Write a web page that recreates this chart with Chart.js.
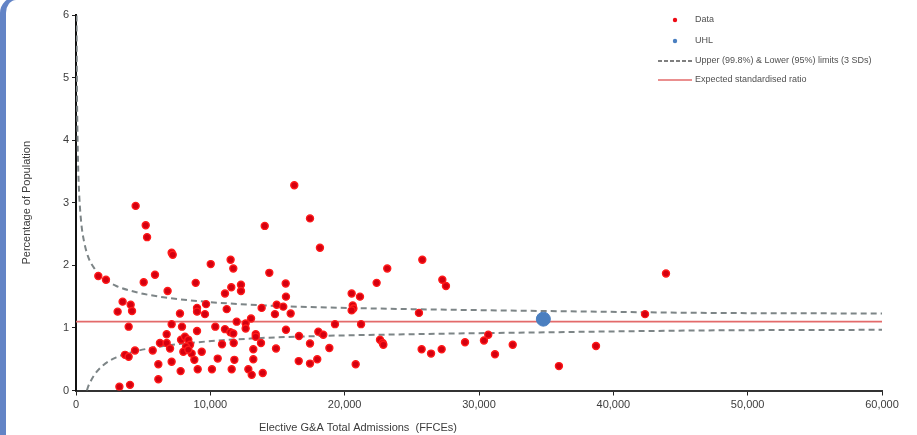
<!DOCTYPE html>
<html>
<head>
<meta charset="utf-8">
<script src="https://cdn.jsdelivr.net/npm/chart.js@4/dist/chart.umd.min.js"></script>
<style>
  html, body { margin: 0; padding: 0; background: #fff; }
  #wrap { position: relative; width: 917px; height: 435px; overflow: hidden; background: #fff; }
  #c { position: absolute; left: 0; top: 0; }
  #frame {
    position: absolute; left: 0; top: -3px; width: 16px; height: 470px;
    border-left: 6px solid #6384c6; border-top: 3px solid #6384c6;
    border-top-left-radius: 16px; box-sizing: border-box;
  }
</style>
</head>
<body>
<div id="wrap">
  <canvas id="c" width="917" height="435"></canvas>
  <div id="frame"></div>
</div>
<script>
// Elective G&A total admissions (FFCEs) per organisation
const admissions = [
  1660, 2230, 3100, 3470, 4070, 4170, 3920, 3650, 3920, 4390,
  3230, 4020, 4440, 5190, 5290, 7120, 7200, 5880, 5040, 6820,
  5710, 6130, 6130, 7120, 7790, 6750, 6250, 6750, 7000, 7740,
  7120, 7890, 7820, 8110, 8360, 8490, 8190, 7990, 8610, 8360,
  8810, 9360, 9060, 9010, 9010, 9680, 9600, 9010, 8910, 10030,
  11510, 11710, 11560, 12280, 12280, 11090, 11220, 10370, 11090, 11490,
  11710, 11960, 12630, 12630, 13030, 13380, 13380, 13820, 10870, 11740,
  13200, 13770, 10120, 10550, 11590, 11790, 12830, 13080, 13200, 13900,
  14050, 14390, 15610, 15630, 14940, 15430, 14810, 15980, 15630, 16600,
  18040, 18410, 19280, 17420, 18860, 14890, 16580, 17420, 17960, 16250,
  17420, 18160, 20520, 21140, 20600, 20650, 20520, 21220, 22380, 23170,
  25780, 27270, 27540, 25530, 22630, 22830, 22880, 20820, 25730, 26430,
  27220, 28960, 30370, 30690, 31190, 32510, 35950, 38710, 42360, 43920
];
// Percentage of population for the same organisations
const percentages = [
  1.83, 1.77, 1.26, 1.42, 1.37, 1.27, 1.02, 0.57, 0.54, 0.64,
  0.06, 0.09, 2.95, 2.64, 2.45, 2.20, 2.17, 1.85, 1.73, 1.59,
  0.64, 0.42, 0.18, 0.46, 0.31, 0.90, 0.76, 0.76, 0.67, 1.23,
  1.06, 1.02, 0.81, 0.86, 0.81, 0.73, 0.70, 0.62, 0.59, 0.65,
  0.49, 0.62, 0.34, 1.32, 1.26, 1.38, 1.22, 0.95, 1.72, 2.02,
  2.09, 1.95, 1.65, 1.69, 1.59, 1.55, 1.30, 1.02, 0.98, 0.93,
  0.91, 1.10, 1.07, 0.99, 1.15, 0.90, 0.86, 1.32, 0.74, 0.76,
  0.66, 0.76, 0.34, 0.51, 0.34, 0.49, 0.34, 0.25, 0.50, 0.28,
  2.63, 1.88, 1.71, 1.50, 1.37, 1.34, 1.22, 1.23, 0.97, 0.87,
  0.94, 0.89, 1.06, 0.75, 0.68, 0.67, 0.47, 0.43, 0.50, 3.28,
  2.75, 2.28, 1.55, 1.50, 1.36, 1.31, 1.28, 1.06, 1.72, 1.95,
  2.09, 1.77, 1.67, 1.24, 0.81, 0.76, 0.73, 0.42, 0.66, 0.59,
  0.66, 0.77, 0.80, 0.89, 0.58, 0.73, 0.39, 0.71, 1.22, 1.87
];

const uhlAdmissions = [34790];
const uhlPercentage = [1.14];

const expectedRatio = 1.10;
const expectedRange = [0, 60000];

// Control limit curves
const upperLimitN = [41, 60, 80, 120, 170, 250, 400, 600, 900, 1400, 2000, 3000, 4500, 6500, 9000, 13000, 18000, 25000, 35000, 47000, 60000];
const upperLimit  = [5.99, 5.14, 4.60, 3.96, 3.50, 3.08, 2.66, 2.38, 2.14, 1.94, 1.80, 1.67, 1.57, 1.49, 1.43, 1.37, 1.33, 1.30, 1.27, 1.24, 1.23];
const lowerLimitN = [810, 900, 1000, 1400, 2000, 3000, 4500, 6500, 9000, 13000, 18000, 25000, 35000, 47000, 60000];
const lowerLimit  = [0.00, 0.06, 0.11, 0.26, 0.40, 0.53, 0.63, 0.71, 0.77, 0.83, 0.87, 0.90, 0.93, 0.96, 0.97];

const xTicks = [0, 10000, 20000, 30000, 40000, 50000, 60000];
const yTicks = [0, 1, 2, 3, 4, 5, 6];

const xTitle = 'Elective G&A Total Admissions  (FFCEs)';
const yTitle = 'Percentage of Population';

const FONT = '"Liberation Sans", Arial, sans-serif';
const TEXT = '#3c3c3c';
const RED = '#ee0a14';
const BLUE = '#4a7fc0';
const LIMIT_GREY = '#7d8587';
const EXPECTED_RED = '#e36a6a';

const pts = (xs, ys) => xs.map((x, i) => ({ x, y: ys[i] }));

// Legend in the top-right corner of the plot
const cornerLegend = {
  id: 'cornerLegend',
  afterDraw(chart) {
    const ctx = chart.ctx;
    const ds = chart.data.datasets;
    const x0 = 658, x1 = 692, tx = 695;
    ctx.save();
    ctx.font = '9px ' + FONT;
    ctx.textBaseline = 'middle';

    // Data
    ctx.beginPath(); ctx.arc(675, 20, 2.2, 0, Math.PI * 2); ctx.fillStyle = RED; ctx.fill();
    ctx.fillStyle = '#505050'; ctx.fillText(ds[0].label, tx, 20);
    // UHL
    ctx.beginPath(); ctx.arc(675, 41, 2.2, 0, Math.PI * 2); ctx.fillStyle = BLUE; ctx.fill();
    ctx.fillStyle = '#505050'; ctx.fillText(ds[1].label, tx, 41);
    // Limits
    ctx.strokeStyle = '#555'; ctx.lineWidth = 1.5; ctx.setLineDash([4, 2]);
    ctx.beginPath(); ctx.moveTo(x0, 61); ctx.lineTo(x1, 61); ctx.stroke();
    ctx.setLineDash([]);
    ctx.fillText(ds[2].label, tx, 61);
    // Expected
    ctx.strokeStyle = EXPECTED_RED; ctx.lineWidth = 1.5;
    ctx.beginPath(); ctx.moveTo(x0, 80); ctx.lineTo(x1, 80); ctx.stroke();
    ctx.fillText(ds[4].label, tx, 80);

    // x-axis title
    ctx.font = '11px ' + FONT;
    ctx.fillStyle = TEXT;
    ctx.textAlign = 'center';
    ctx.fillText(xTitle, 358, 428);
    ctx.restore();
  }
};

new Chart(document.getElementById('c'), {
  type: 'scatter',
  data: {
    datasets: [
      {
        label: 'Data',
        data: pts(admissions, percentages),
        backgroundColor: '#d4000f',
        borderColor: '#ff1a1a',
        borderWidth: 1.4,
        pointRadius: 3.5,
        order: 1
      },
      {
        label: 'UHL',
        data: pts(uhlAdmissions, uhlPercentage),
        backgroundColor: BLUE,
        borderColor: BLUE,
        pointRadius: 7,
        order: 0
      },
      {
        label: 'Upper (99.8%) & Lower (95%) limits (3 SDs)',
        data: pts(upperLimitN, upperLimit),
        showLine: true,
        borderColor: LIMIT_GREY,
        borderWidth: 2,
        borderDash: [6, 4],
        pointRadius: 0,
        cubicInterpolationMode: 'monotone',
        order: 3
      },
      {
        label: 'Lower limit',
        data: pts(lowerLimitN, lowerLimit),
        showLine: true,
        borderColor: LIMIT_GREY,
        borderWidth: 2,
        borderDash: [6, 4],
        pointRadius: 0,
        cubicInterpolationMode: 'monotone',
        order: 3
      },
      {
        label: 'Expected standardised ratio',
        data: expectedRange.map(x => ({ x, y: expectedRatio })),
        showLine: true,
        borderColor: EXPECTED_RED,
        borderWidth: 1.6,
        pointRadius: 0,
        order: 2
      }
    ]
  },
  options: {
    responsive: false,
    animation: false,
    layout: { padding: { top: 15, right: 35, left: 0, bottom: 0 } },
    plugins: { legend: { display: false }, tooltip: { enabled: false } },
    scales: {
      x: {
        type: 'linear',
        min: xTicks[0],
        max: xTicks[xTicks.length - 1],
        afterFit: s => { s.height = 44.5; },
        afterBuildTicks: s => { s.ticks = xTicks.map(v => ({ value: v })); },
        ticks: {
          font: { family: FONT, size: 11 },
          color: TEXT,
          padding: 3,
          maxRotation: 0,
          callback: v => v.toLocaleString('en-GB')
        },
        grid: { drawOnChartArea: false, tickLength: 5, color: '#222', lineWidth: 1 },
        border: { color: '#333', width: 2 }
      },
      y: {
        type: 'linear',
        min: yTicks[0],
        max: yTicks[yTicks.length - 1],
        afterFit: s => { s.width = 76; },
        afterBuildTicks: s => { s.ticks = yTicks.map(v => ({ value: v })); },
        ticks: {
          font: { family: FONT, size: 11 },
          color: TEXT,
          padding: 3
        },
        title: {
          display: true,
          text: yTitle,
          font: { family: FONT, size: 11 },
          color: TEXT,
          padding: { top: 20, bottom: 0 }
        },
        grid: { drawOnChartArea: false, tickLength: 4, color: '#222', lineWidth: 1 },
        border: { color: '#111', width: 2 }
      }
    }
  },
  plugins: [cornerLegend]
});
</script>
</body>
</html>
